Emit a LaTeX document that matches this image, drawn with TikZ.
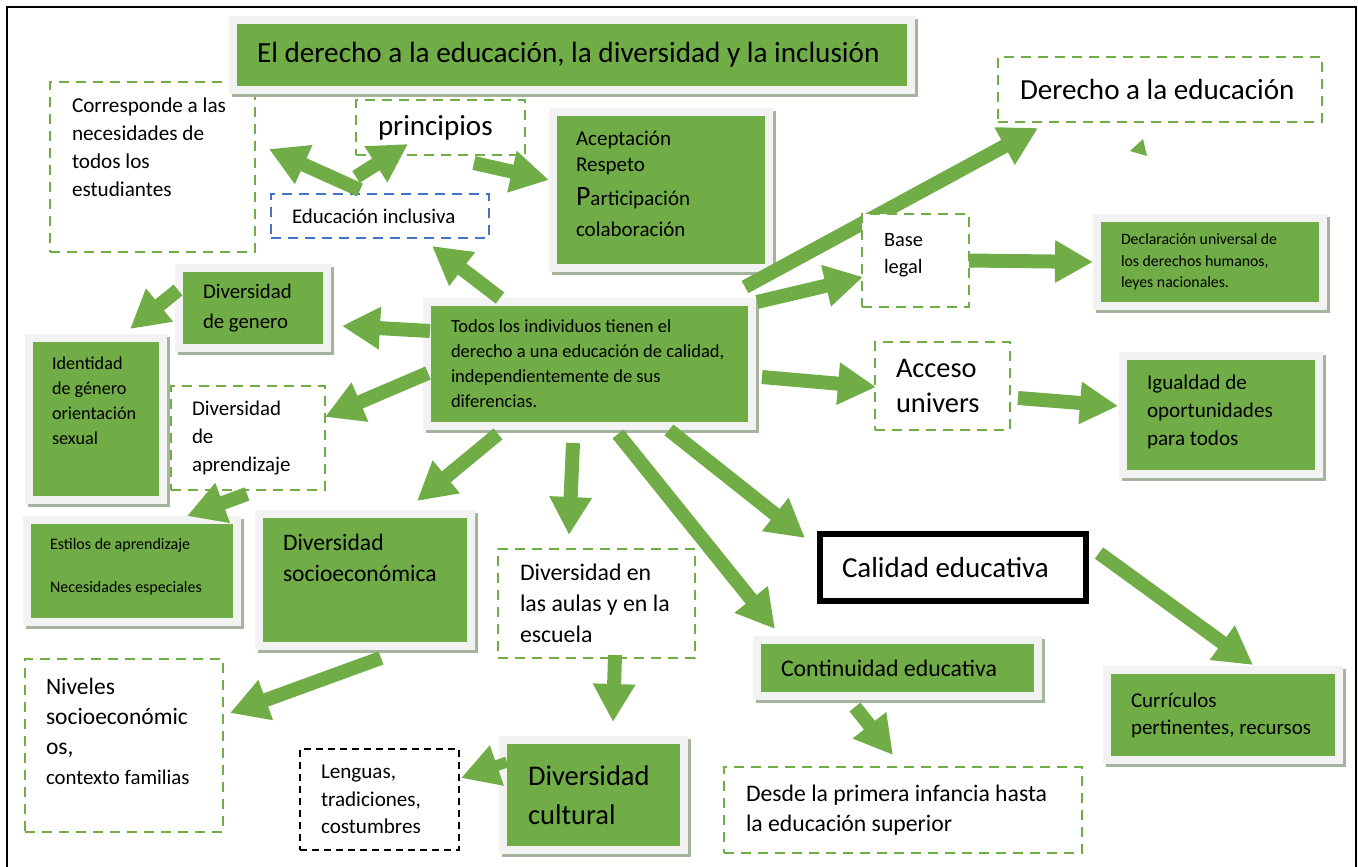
\documentclass[tikz,border=0pt]{standalone}
\usepackage{fontspec}
\setmainfont{Carlito}
\usetikzlibrary{arrows.meta,calc}
\definecolor{leaf}{RGB}{112,173,71}
\definecolor{paper}{RGB}{242,242,242}
\definecolor{shade}{RGB}{167,180,157}
\definecolor{dashblue}{RGB}{68,114,196}
\newcommand{\fsz}[2]{\fontsize{#1pt}{#2pt}\selectfont}
\hyphenpenalty=10000
\exhyphenpenalty=10000

\begin{document}
\begin{tikzpicture}
	[x=1pt,y=-1pt,
	 txt/.style={inner sep=0pt, outer sep=0pt, align=left,
	   execute at begin node={\spaceskip=0pt\xspaceskip=0pt}},
	 panel/.style={txt, fill=leaf, draw=paper, line width=8pt,
	   preaction={draw=shade, fill=shade, line width=8pt, transform canvas={shift={(3,3)}}}},
	 dbox/.style={txt, draw=leaf, fill=white, line width=2.5pt, dash pattern=on 10pt off 7pt},
	 arr/.style={draw=leaf, line width=14pt, -{Triangle[length=38pt,width=40pt]}}]
	\useasboundingbox (0,0) rectangle (1358,867);
	\draw[line width=2.5pt] (7,7) rectangle (1356,880);

	% dashed boxes
	\node[dbox, minimum width=205pt, minimum height=170pt, text width=161pt, text height=31pt, text depth=139pt, font=\fsz{21.2}{28}] (corresp) at (152.5,167)
		{Corresponde a las\\necesidades de\\todos los\\estudiantes};
	\node[dbox, minimum width=169pt, minimum height=55pt, text width=125pt, font=\fsz{29}{35}] (principios) at (440.5,127.5) {principios};
	\node[dbox, draw=dashblue, minimum width=218pt, minimum height=44pt, text width=176pt, font=\fsz{20.9}{26}] (inclusiva) at (380,216) {Educación inclusiva};
	\node[dbox, minimum width=324pt, minimum height=65pt, text width=280pt, font=\fsz{29.1}{35}] (derecho) at (1160,89.5) {Derecho a la educación};
	\node[dbox, minimum width=154pt, minimum height=104pt, text width=112pt, font=\fsz{20.9}{28}] (aprendizaje) at (248,438) {Diversidad\\de\\aprendizaje};
	\node[dbox, minimum width=135pt, minimum height=88pt, text width=93pt, font=\fsz{28.4}{35}] (acceso) at (942.5,386) {Acceso\\univers};
	\node[dbox, minimum width=197pt, minimum height=109pt, text width=153pt, font=\fsz{23.8}{31}] (aulas) at (596.5,603.5) {Diversidad en\\las aulas y en la\\escuela};
	\node[dbox, minimum width=198pt, minimum height=173pt, text width=156pt, text height=35pt, text depth=138pt, font=\fsz{23.5}{30}] (niveles) at (124,745.5)
		{Niveles\\socioeconómic\\os,\\{\fsz{20.8}{30}contexto familias}};
	\node[dbox, draw=black, dash pattern=on 7pt off 5pt, minimum width=159pt, minimum height=101pt, text width=117pt, font=\fsz{21.1}{27.5}] (lenguas) at (379.5,799.5) {Lenguas,\\tradiciones,\\costumbres};
	\node[dbox, minimum width=358pt, minimum height=86pt, text width=314pt, font=\fsz{23.7}{30}] (desde) at (903,810) {Desde la primera infancia hasta\\la educación superior};
	\node[txt, draw=black, fill=white, line width=5.5pt, minimum width=266pt, minimum height=67pt, text width=222pt, font=\fsz{29}{35}] (calidad) at (953,567.5) {Calidad educativa};

	% green panels
	\node[panel, minimum width=678pt, minimum height=70pt, text width=630pt, font=\fsz{29.2}{35}] (title) at (572,55) {El derecho a la educación, la diversidad y la inclusión};
	\node[panel, minimum width=216pt, minimum height=156pt, text width=170pt, text height=33pt, text depth=123pt, font=\fsz{21}{26}] (acepta) at (661,190)
		{Aceptación\\Respeto\\[8pt]{\fsz{28}{30}P}articipación\\[5pt]colaboración};
	\node[panel, minimum width=148pt, minimum height=80pt, text width=100pt, font=\fsz{20.8}{30}] (genero) at (253,308) {Diversidad\\de genero};
	\node[panel, minimum width=134pt, minimum height=162pt, text width=88pt, text height=31.5pt, text depth=130.5pt, font=\fsz{18.2}{25}] (identidad) at (96,419)
		{Identidad\\de género\\orientación\\sexual};
	\node[panel, minimum width=325pt, minimum height=124pt, text width=277pt, font=\fsz{18.5}{25}] (todos) at (589.5,364)
		{Todos los individuos tienen el\\derecho a una educación de calidad,\\independientemente de sus\\diferencias.};
	\node[panel, minimum width=226pt, minimum height=88pt, text width=178pt, font=\fsz{15.8}{21.5}] (declara) at (1210,262)
		{Declaración universal de\\los derechos humanos,\\leyes nacionales.};
	\node[panel, minimum width=196pt, minimum height=118pt, text width=148pt, text height=33.5pt, text depth=84.5pt, font=\fsz{21.1}{28}] (igualdad) at (1221,415)
		{Igualdad de\\oportunidades\\para todos};
	\node[panel, minimum width=210pt, minimum height=102pt, text width=164pt, text height=29pt, text depth=73pt, font=\fsz{16}{21}] (estilos) at (132,571)
		{Estilos de aprendizaje\\[22pt]Necesidades especiales};
	\node[panel, minimum width=212pt, minimum height=132pt, text width=164pt, text height=36pt, text depth=96pt, font=\fsz{23.6}{31}] (socio) at (365,580)
		{Diversidad\\socioeconómica};
	\node[panel, minimum width=181pt, minimum height=110pt, text width=131pt, font=\fsz{28.5}{39}] (cultural) at (593.5,795) {Diversidad\\cultural};
	\node[panel, minimum width=281pt, minimum height=56pt, text width=233pt, font=\fsz{23.8}{30}] (continuidad) at (897.5,668) {Continuidad educativa};
	\node[panel, minimum width=232pt, minimum height=90pt, text width=184pt, font=\fsz{21}{27}] (curriculos) at (1223,715) {Currículos\\pertinentes, recursos};

	\draw[arr] ($(todos.north east)+(-7,-15)$) -- ($(derecho.south west)+(40,6)$);
	\fill[leaf] (1143,139) -- (1130,151) -- (1147,156) -- cycle;
	\node[dbox, minimum width=107pt, minimum height=93pt, text width=63pt, text height=32pt, text depth=61pt, font=\fsz{20.4}{27}] (base) at (915.5,260.5) {Base\\legal};

	% arrows
	\draw[arr] ($(inclusiva.north)+(-20,-4)$) -- ($(corresp.east)+(14,-18)$);
	\draw[arr] ($(inclusiva.north)+(-24,-17)$) -- ($(principios.south)+(-32.5,-11)$);
	\draw[arr] ($(principios.south)+(33.5,8)$) -- ($(acepta.west)+(-4,-10)$);
	\draw[arr] ($(todos.north)+(-89.5,-4)$) -- ($(inclusiva.south)+(52,8)$);
	\draw[arr] ($(todos.north east)+(5,0)$) -- ($(base.west)+(1,16.5)$);
	\draw[arr] (base.east) -- ($(declara.west)+(-4,0)$);
	\draw[arr] ($(todos.east)+(10,13)$) -- ($(acceso.west)+(1,1)$);
	\draw[arr] ($(acceso.east)+(8,12)$) -- ($(igualdad.west)+(-5,-9)$);
	\draw[arr] ($(todos.west)+(3,-33)$) -- ($(genero.east)+(15,18)$);
	\draw[arr] ($(todos.west)+(1,9)$) -- ($(aprendizaje.east)+(0,-21)$);
	\draw[arr] ($(genero.west)+(-1,-18)$) -- ($(identidad.north)+(34,-9)$);
	\draw[arr] ($(aprendizaje.south)+(-1,4)$) -- ($(estilos.north)+(55,-4)$);
	\draw[arr] ($(todos.south)+(-91.5,8)$) -- ($(socio.north)+(52,-13)$);
	\draw[arr] ($(todos.south)+(-16.5,17)$) -- ($(aulas.north)+(-27.5,-14)$);
	\draw[arr] ($(todos.south)+(28.5,8)$) -- ($(continuidad.north west)+(18,-11)$);
	\draw[arr] ($(todos.south)+(79.5,4)$) -- ($(calidad.north west)+(-15,4)$);
	\draw[arr] ($(calidad.east)+(13,-14.5)$) -- ($(curriculos.north)+(30,-5)$);
	\draw[arr] ($(continuidad.south)+(-42.5,11)$) -- ($(desde.north)+(-10,-12)$);
	\draw[arr] ($(socio.south)+(16,12)$) -- ($(niveles.east)+(7,-32.5)$);
	\draw[arr] ($(aulas.south)+(18.5,-3)$) -- ($(cultural.north)+(19.5,-18)$);
	\draw[arr, line width=11pt] ($(cultural.west)+(4,-33)$) -- ($(lenguas.east)+(2,-21.5)$);
\end{tikzpicture}
\end{document}
